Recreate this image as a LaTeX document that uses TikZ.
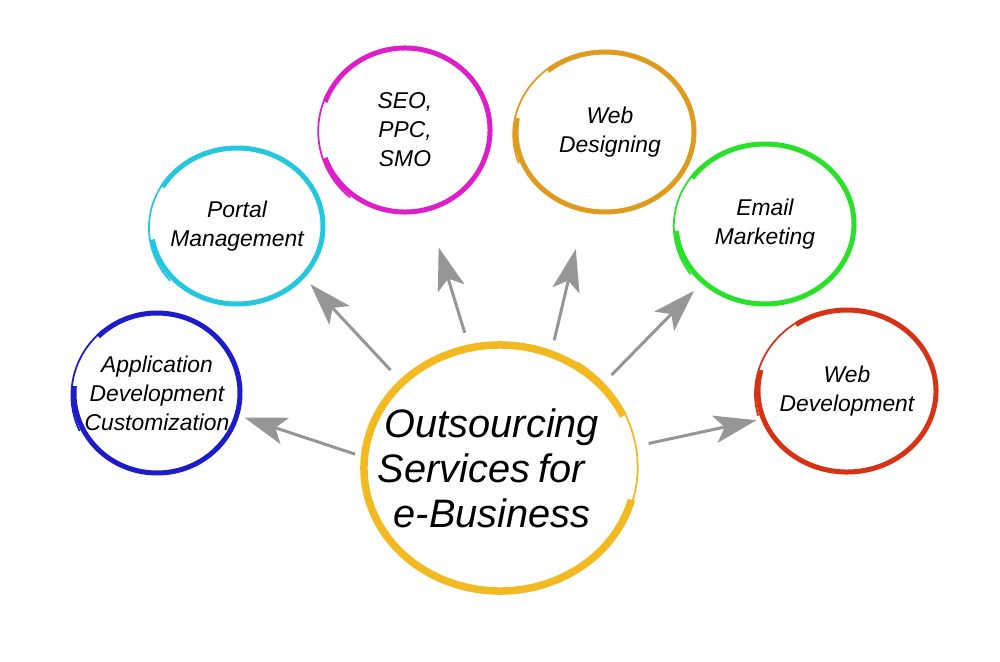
\documentclass[tikz,border=0pt]{standalone}
\usepackage{fontspec}
\setmainfont{Liberation Sans}
\usetikzlibrary{arrows.meta,calc}
\definecolor{appblue}{RGB}{28,28,200}
\definecolor{portalcyan}{RGB}{35,200,222}
\definecolor{seomagenta}{RGB}{222,30,200}
\definecolor{designgold}{RGB}{222,155,30}
\definecolor{mailgreen}{RGB}{40,225,40}
\definecolor{devred}{RGB}{215,50,20}
\definecolor{coregold}{RGB}{242,186,32}
\definecolor{arrowgray}{RGB}{150,150,150}
\tikzset{
  ringnode/.style={inner sep=0pt,align=center,font=\fontsize{13}{16.5}\selectfont\itshape},
  corenode/.style={inner sep=0pt,align=center,font=\fontsize{22.6}{25.6}\selectfont\itshape},
  flow/.style={-{Stealth[length=8.5mm,width=5.5mm,inset=2mm]},line width=0.6mm,draw=arrowgray},
}
% brush ring round a node: name, colour, x radius, y radius, start angle, width
\newcommand{\brushring}[6]{%
  \draw[#2,line width=#6] (#1.center) ++(#5:#3 and #4)
    arc[start angle=#5,end angle={#5+320},x radius=#3,y radius=#4];
  \draw[#2,line width=0.35mm] (#1.center) ++({#5-45}:{#3+0.3mm} and {#4+0.3mm})
    arc[start angle={#5-45},end angle={#5+30},x radius={#3+0.9mm},y radius={#4+0.9mm}];
}

\begin{document}
\begin{tikzpicture}[x=0.2mm,y=-0.2mm]
  \useasboundingbox[fill=white] (0,0) rectangle (1000,662);
  \node[corenode] (core) at (500,468) {\hspace*{-3.2mm}Outsourcing\\\hspace*{-7.5mm}Services\hspace{1.6mm}for\\\hspace*{-3.2mm}e-Business};
  \node[ringnode] (app) at (157,393) {Application\\Development\\Customization};
  \node[ringnode] (portal) at (237,226) {Portal\\Management};
  \node[ringnode] (seo) at (405,130) {SEO,\\PPC,\\SMO};
  \node[ringnode] (design) at (605,132) {\hspace*{2mm}Web\\\hspace*{2mm}Designing};
  \node[ringnode] (mail) at (765,224) {Email\\Marketing};
  \node[ringnode] (dev) at (847,391) {Web\\Development};
  % rings
  \brushring{core}{coregold}{27.2mm}{24.6mm}{25}{1.5mm}
  \brushring{app}{appblue}{16.6mm}{16mm}{175}{1mm}
  \brushring{portal}{portalcyan}{17.2mm}{15.6mm}{190}{1mm}
  \brushring{seo}{seomagenta}{17mm}{16.4mm}{200}{1mm}
  \brushring{design}{designgold}{17.8mm}{16mm}{170}{1mm}
  \brushring{mail}{mailgreen}{17.8mm}{16mm}{185}{1mm}
  \brushring{dev}{devred}{17.8mm}{16.2mm}{165}{1mm}
  % arrows
  \draw[flow,shorten <=2mm,shorten >=1.6mm] ($(core)+(175:27.2mm and 24.6mm)$) -- ($(app)+(344:16.6mm and 16mm)$);
  \draw[flow,shorten <=3.4mm,shorten >=2.2mm] ($(core)+(136:27.2mm and 24.6mm)$) -- ($(portal)+(320:17.2mm and 15.6mm)$);
  \draw[flow,shorten <=3.2mm,shorten >=8mm] ($(core)+(103:27.2mm and 24.6mm)$) -- ($(seo)+(285:17mm and 16.4mm)$);
  \draw[flow,shorten <=2.8mm,shorten >=8mm] ($(core)+(68:27.2mm and 24.6mm)$) -- ($(design)+(257:17.8mm and 16mm)$);
  \draw[flow,shorten <=3mm,shorten >=2.6mm] ($(core)+(42:27.2mm and 24.6mm)$) -- ($(mail)+(226:17.8mm and 16mm)$);
  \draw[flow,shorten <=3mm,shorten >=1.4mm] ($(core)+(10:27.2mm and 24.6mm)$) -- ($(dev)+(200:17.8mm and 16.2mm)$);
\end{tikzpicture}
\end{document}
